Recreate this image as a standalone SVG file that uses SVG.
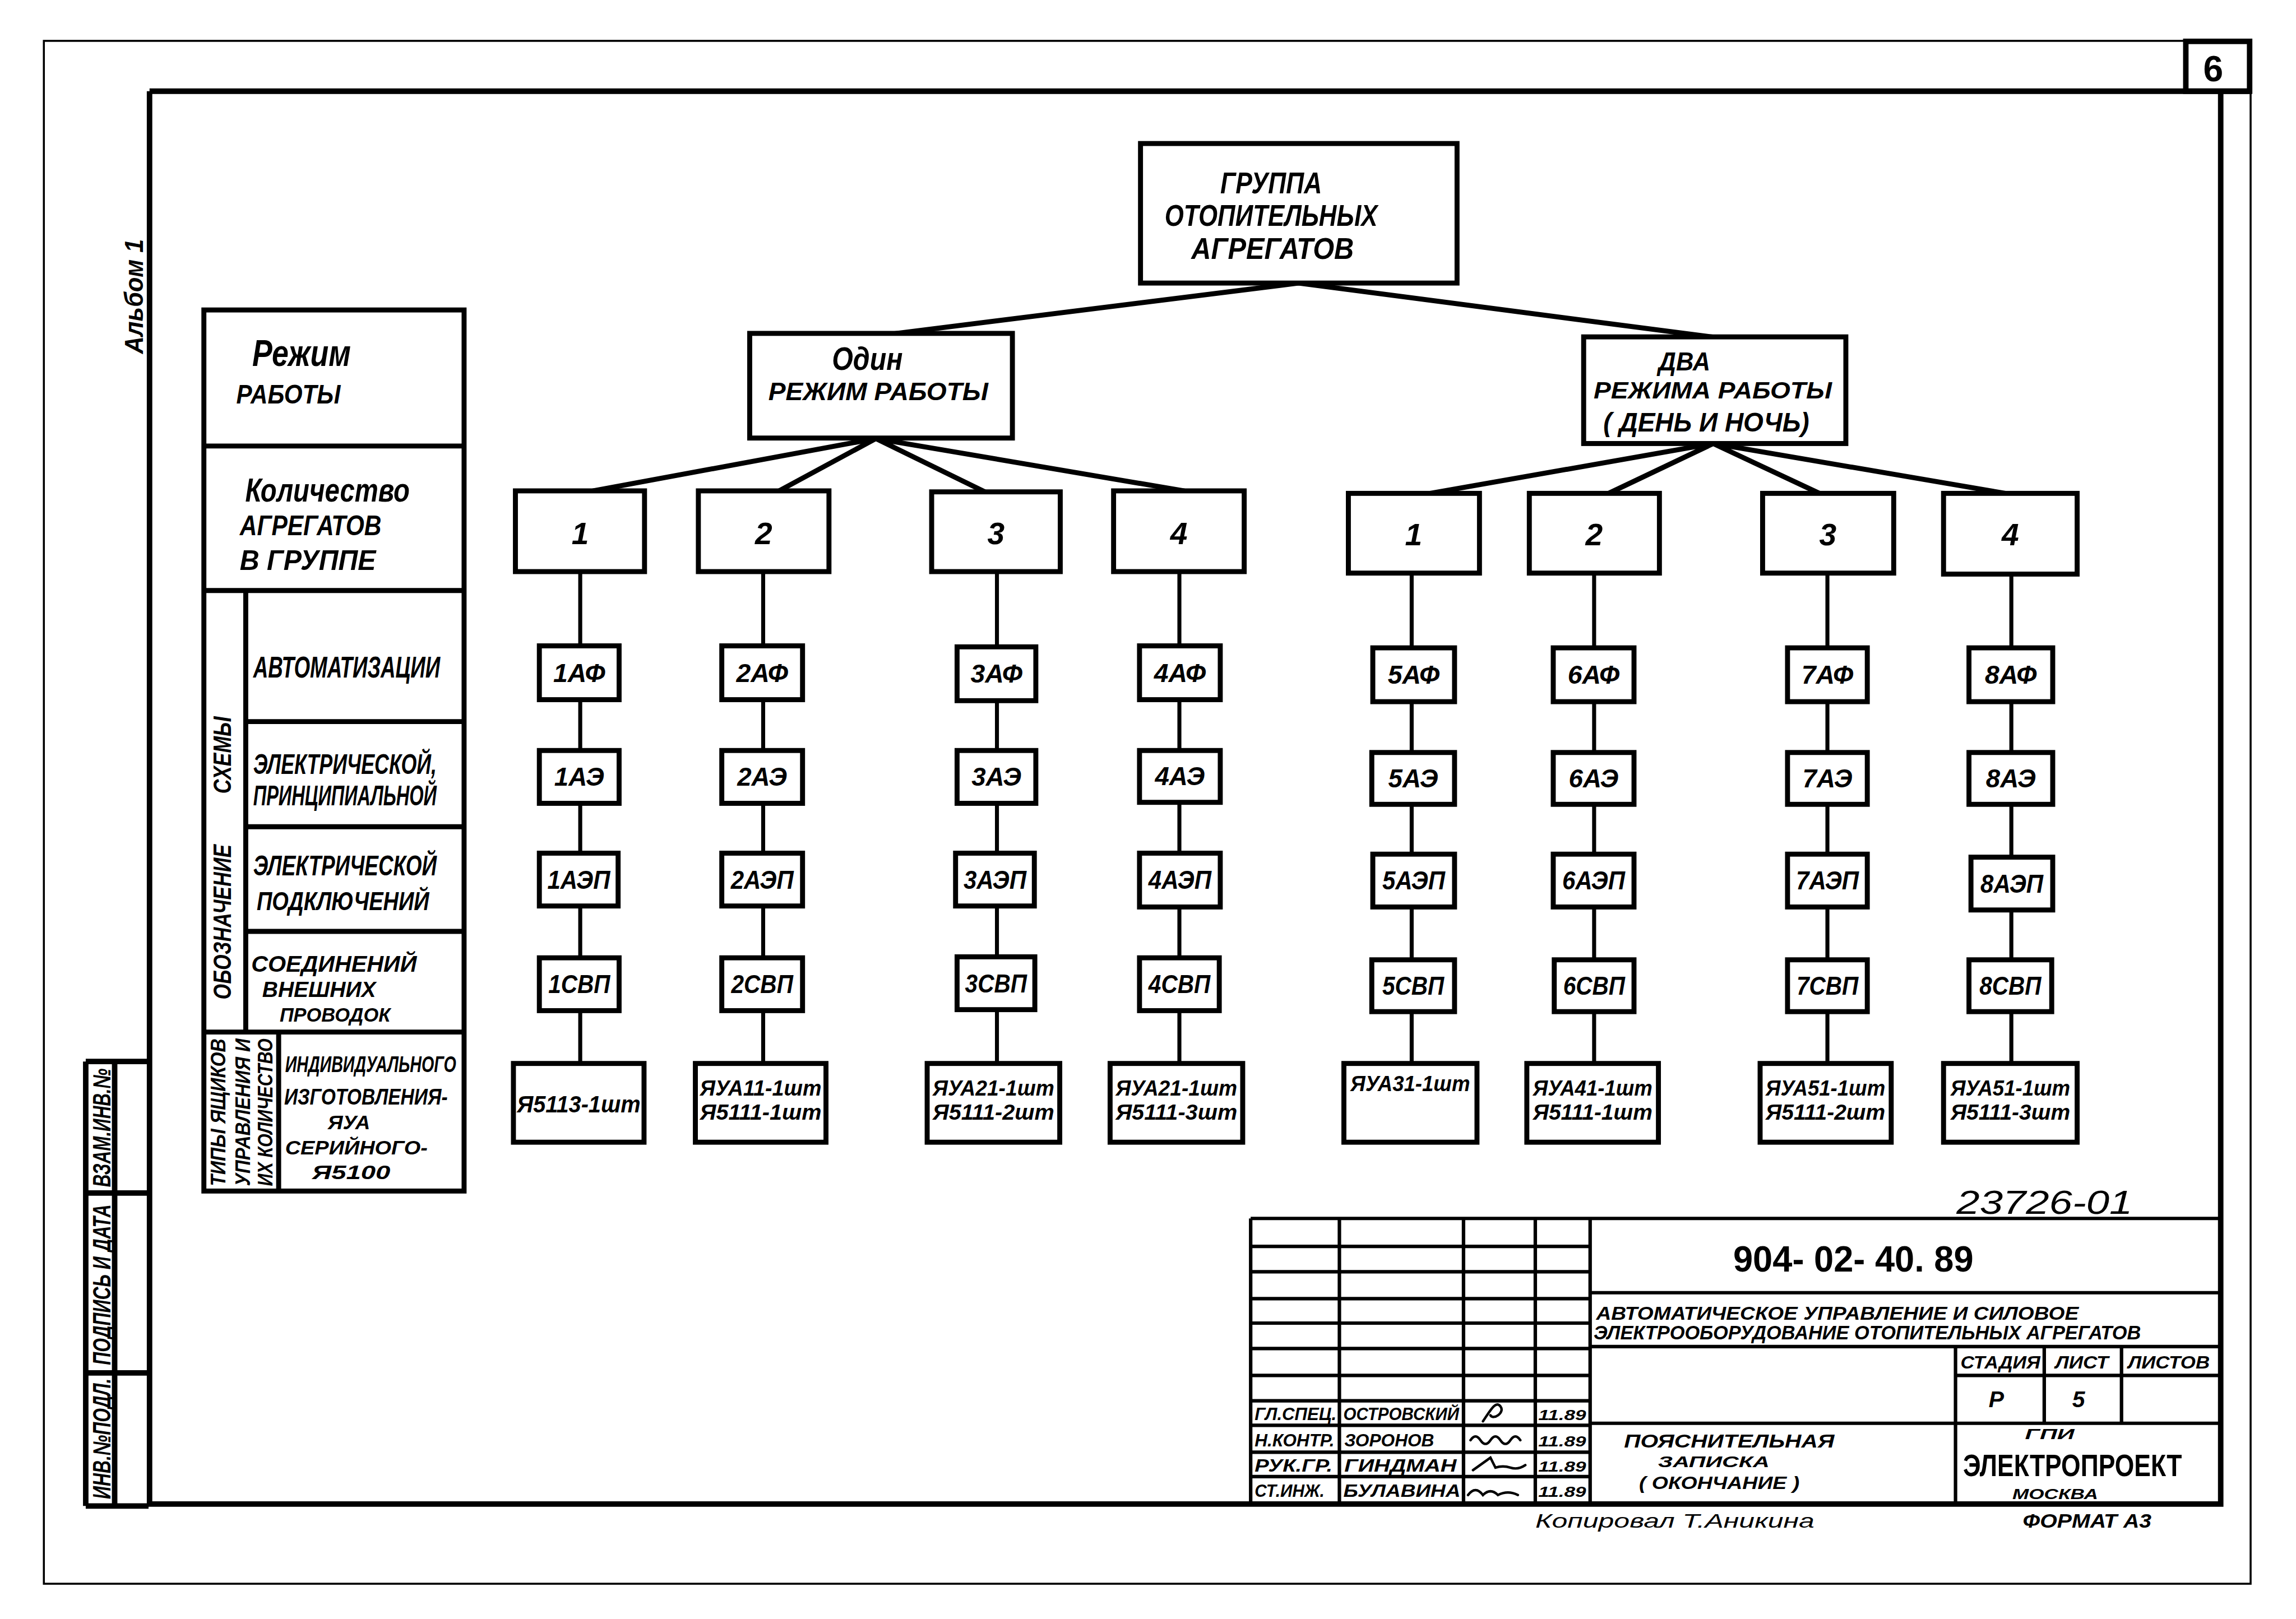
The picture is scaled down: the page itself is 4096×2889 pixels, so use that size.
<svg xmlns="http://www.w3.org/2000/svg" width="4096" height="2889" viewBox="0 0 4096 2889">
<style>
.bx{fill:#fff;stroke:#000;stroke-width:10}
.sb{fill:#fff;stroke:#000;stroke-width:10}
.fr{fill:none;stroke:#000;stroke-width:11}
.th{fill:none;stroke:#000;stroke-width:4}
.tb{fill:none;stroke:#000;stroke-width:7}
.cn{fill:none;stroke:#000;stroke-width:10;stroke-linecap:round}
.vc{fill:none;stroke:#000;stroke-width:8}
.t{font-family:"Liberation Sans","DejaVu Sans",sans-serif;font-weight:bold;font-style:italic;fill:#000}
.n{font-family:"Liberation Sans","DejaVu Sans",sans-serif;font-style:italic;fill:#000}
.b{font-weight:bold}
.u{font-style:normal}
.w{font-weight:normal}
.m{text-anchor:middle}
.sg{fill:none;stroke:#000;stroke-width:5;stroke-linecap:round}
</style>
<rect width="4096" height="2889" fill="#fff"/>
<g transform="scale(0.889265)">
<g id="sheet-frame">
<rect class="th" x="88" y="82" width="4427" height="3096"/>
<path class="fr" d="M300,183 H4513 M300,183 V3018 H4455 V183"/>
<rect class="fr" x="4385" y="83" width="128" height="100"/>
<text class="n b u m" x="4440" y="163" font-size="72">6</text>
<text class="t" transform="translate(287,595) rotate(-90)" font-size="52" text-anchor="middle" textLength="230" lengthAdjust="spacingAndGlyphs">Альбом 1</text>
</g>
<g id="left-stamp">
<path class="fr" d="M172,2130 H298 M172,2130 V3022 M230,2130 V3022 M172,2394 H298 M172,2755 H298 M172,3022 H298"/>
<text class="t" transform="translate(222,2263) rotate(-90)" font-size="50" text-anchor="middle" textLength="238" lengthAdjust="spacingAndGlyphs">ВЗАМ.ИНВ.№</text>
<text class="t" transform="translate(222,2578) rotate(-90)" font-size="50" text-anchor="middle" textLength="322" lengthAdjust="spacingAndGlyphs">ПОДПИСЬ И ДАТА</text>
<text class="t" transform="translate(222,2887) rotate(-90)" font-size="50" text-anchor="middle" textLength="242" lengthAdjust="spacingAndGlyphs">ИНВ.№ПОДЛ.</text>
</g>
<g id="legend-table">
<rect class="bx" x="409" y="622" width="522" height="1768"/>
<path class="bx" d="M409,895 H931 M409,1185 H931 M493,1185 V2071 M493,1448 H931 M493,1659 H931 M493,1869 H931 M409,2071 H931 M559,2071 V2390"/>
<text class="t" x="506" y="734" font-size="74" textLength="198" lengthAdjust="spacingAndGlyphs">Режим</text>
<text class="t" x="474" y="810" font-size="54" textLength="209" lengthAdjust="spacingAndGlyphs">РАБОТЫ</text>
<text class="t" x="492" y="1007" font-size="66" textLength="330" lengthAdjust="spacingAndGlyphs">Количество</text>
<text class="t" x="481" y="1074" font-size="56" textLength="284" lengthAdjust="spacingAndGlyphs">АГРЕГАТОВ</text>
<text class="t" x="481" y="1144" font-size="56" textLength="273" lengthAdjust="spacingAndGlyphs">В  ГРУППЕ</text>
<text class="t" transform="translate(463,1850) rotate(-90)" font-size="50" text-anchor="middle" textLength="311" lengthAdjust="spacingAndGlyphs">ОБОЗНАЧЕНИЕ</text>
<text class="t" transform="translate(463,1515) rotate(-90)" font-size="50" text-anchor="middle" textLength="155" lengthAdjust="spacingAndGlyphs">СХЕМЫ</text>
<text class="t" x="508" y="1359" font-size="60" textLength="375" lengthAdjust="spacingAndGlyphs">АВТОМАТИЗАЦИИ</text>
<text class="t" x="508" y="1553" font-size="56" textLength="368" lengthAdjust="spacingAndGlyphs">ЭЛЕКТРИЧЕСКОЙ,</text>
<text class="t" x="508" y="1616" font-size="56" textLength="368" lengthAdjust="spacingAndGlyphs">ПРИНЦИПИАЛЬНОЙ</text>
<text class="t" x="508" y="1756" font-size="56" textLength="368" lengthAdjust="spacingAndGlyphs">ЭЛЕКТРИЧЕСКОЙ</text>
<text class="t" x="515" y="1826" font-size="52" textLength="346" lengthAdjust="spacingAndGlyphs">ПОДКЛЮЧЕНИЙ</text>
<text class="t" x="504" y="1950" font-size="46" textLength="332" lengthAdjust="spacingAndGlyphs">СОЕДИНЕНИЙ</text>
<text class="t" x="526" y="2001" font-size="44" textLength="228" lengthAdjust="spacingAndGlyphs">ВНЕШНИХ</text>
<text class="t" x="561" y="2050" font-size="40" textLength="222" lengthAdjust="spacingAndGlyphs">ПРОВОДОК</text>
<text class="t" transform="translate(452,2232) rotate(-90)" font-size="42" text-anchor="middle" textLength="296" lengthAdjust="spacingAndGlyphs">ТИПЫ ЯЩИКОВ</text>
<text class="t" transform="translate(501,2232) rotate(-90)" font-size="42" text-anchor="middle" textLength="296" lengthAdjust="spacingAndGlyphs">УПРАВЛЕНИЯ И</text>
<text class="t" transform="translate(547,2232) rotate(-90)" font-size="42" text-anchor="middle" textLength="296" lengthAdjust="spacingAndGlyphs">ИХ КОЛИЧЕСТВО</text>
<text class="t" x="572" y="2151" font-size="46" textLength="343" lengthAdjust="spacingAndGlyphs">ИНДИВИДУАЛЬНОГО</text>
<text class="t" x="570" y="2216" font-size="46" textLength="328" lengthAdjust="spacingAndGlyphs">ИЗГОТОВЛЕНИЯ-</text>
<text class="t" x="700" y="2266" font-size="40" text-anchor="middle" textLength="85" lengthAdjust="spacingAndGlyphs">ЯУА</text>
<text class="t" x="572" y="2316" font-size="40" textLength="286" lengthAdjust="spacingAndGlyphs">СЕРИЙНОГО-</text>
<text class="t" x="626" y="2366" font-size="40" textLength="157" lengthAdjust="spacingAndGlyphs">Я5100</text>
</g>
<g id="connectors">
<path class="cn" d="M2605,568 L1790,670 M2605,568 L3440,677"/>
<path class="cn" d="M1757,880 L1190,985 M1757,880 L1563,985 M1757,880 L1976,987 M1757,880 L2375,985"/>
<path class="cn" d="M3437,890 L2869,990 M3437,890 L3227,990 M3437,890 L3650,990 M3437,890 L4023,990"/>
<path class="vc" d="M1164,1147 V2134 M1531,1147 V2134 M2000,1147 V2134 M2366,1147 V2134 M2832,1150 V2134 M3198,1150 V2134 M3666,1150 V2134 M4035,1150 V2134"/>
</g>
<g id="node-group">
<rect class="bx" x="2288" y="288" width="635" height="280"/>
<text class="n b" x="2550" y="388" font-size="60" text-anchor="middle" textLength="204" lengthAdjust="spacingAndGlyphs">ГРУППА</text>
<text class="n b" x="2550" y="453" font-size="60" text-anchor="middle" textLength="427" lengthAdjust="spacingAndGlyphs">ОТОПИТЕЛЬНЫХ</text>
<text class="n b" x="2553" y="520" font-size="60" text-anchor="middle" textLength="326" lengthAdjust="spacingAndGlyphs">АГРЕГАТОВ</text>
</g>
<g id="node-one-mode">
<rect class="bx" x="1504" y="669" width="527" height="210"/>
<text class="n b" x="1740" y="742" font-size="64" text-anchor="middle" textLength="142" lengthAdjust="spacingAndGlyphs">Один</text>
<text class="n b" x="1762" y="803" font-size="50" text-anchor="middle" textLength="441" lengthAdjust="spacingAndGlyphs">РЕЖИМ   РАБОТЫ</text>
</g>
<g id="node-two-modes">
<rect class="bx" x="3177" y="676" width="526" height="214"/>
<text class="n b" x="3379" y="743" font-size="52" text-anchor="middle" textLength="104" lengthAdjust="spacingAndGlyphs">ДВА</text>
<text class="n b" x="3436" y="799" font-size="48" text-anchor="middle" textLength="478" lengthAdjust="spacingAndGlyphs">РЕЖИМА РАБОТЫ</text>
<text class="n b" x="3423" y="866" font-size="54" text-anchor="middle" textLength="413" lengthAdjust="spacingAndGlyphs">( ДЕНЬ И НОЧЬ)</text>
</g>
<g id="node-count-1a"><rect class="bx" x="1034" y="985" width="259" height="162"/><text class="n b m" x="1164" y="1092" font-size="62">1</text></g>
<g id="node-count-2a"><rect class="bx" x="1401" y="985" width="262" height="162"/><text class="n b m" x="1532" y="1092" font-size="62">2</text></g>
<g id="node-count-3a"><rect class="bx" x="1869" y="987" width="258" height="160"/><text class="n b m" x="1998" y="1092" font-size="62">3</text></g>
<g id="node-count-4a"><rect class="bx" x="2234" y="985" width="262" height="162"/><text class="n b m" x="2365" y="1092" font-size="62">4</text></g>
<g id="node-count-1b"><rect class="bx" x="2705" y="990" width="263" height="160"/><text class="n b m" x="2836" y="1094" font-size="62">1</text></g>
<g id="node-count-2b"><rect class="bx" x="3068" y="990" width="261" height="160"/><text class="n b m" x="3198" y="1094" font-size="62">2</text></g>
<g id="node-count-3b"><rect class="bx" x="3536" y="990" width="263" height="160"/><text class="n b m" x="3667" y="1094" font-size="62">3</text></g>
<g id="node-count-4b"><rect class="bx" x="3899" y="990" width="268" height="162"/><text class="n b m" x="4033" y="1094" font-size="62">4</text></g>

<g id="col1">
<rect class="sb" x="1082" y="1296" width="160" height="108"/><text class="t m" x="1162" y="1368" font-size="52" textLength="104" lengthAdjust="spacingAndGlyphs">1АФ</text>
<rect class="sb" x="1082" y="1506" width="160" height="106"/><text class="t m" x="1162" y="1577" font-size="52" textLength="100" lengthAdjust="spacingAndGlyphs">1АЭ</text>
<rect class="sb" x="1082" y="1712" width="158" height="106"/><text class="t m" x="1161" y="1783" font-size="52" textLength="126" lengthAdjust="spacingAndGlyphs">1АЭП</text>
<rect class="sb" x="1082" y="1922" width="160" height="106"/><text class="t m" x="1162" y="1993" font-size="52" textLength="124" lengthAdjust="spacingAndGlyphs">1СВП</text>
<rect class="sb" x="1030" y="2134" width="262" height="158"/><text class="t m" x="1161" y="2232" font-size="48" textLength="248" lengthAdjust="spacingAndGlyphs">Я5113-1шт</text>
</g>
<g id="col2">
<rect class="sb" x="1448" y="1296" width="162" height="108"/><text class="t m" x="1529" y="1368" font-size="52" textLength="104" lengthAdjust="spacingAndGlyphs">2АФ</text>
<rect class="sb" x="1448" y="1506" width="162" height="106"/><text class="t m" x="1529" y="1577" font-size="52" textLength="100" lengthAdjust="spacingAndGlyphs">2АЭ</text>
<rect class="sb" x="1448" y="1712" width="162" height="106"/><text class="t m" x="1529" y="1783" font-size="52" textLength="126" lengthAdjust="spacingAndGlyphs">2АЭП</text>
<rect class="sb" x="1448" y="1922" width="162" height="106"/><text class="t m" x="1529" y="1993" font-size="52" textLength="124" lengthAdjust="spacingAndGlyphs">2СВП</text>
<rect class="sb" x="1395" y="2134" width="262" height="158"/><text class="t m" x="1526" y="2198" font-size="44" textLength="244" lengthAdjust="spacingAndGlyphs">ЯУА11-1шт</text><text class="t m" x="1526" y="2247" font-size="44" textLength="244" lengthAdjust="spacingAndGlyphs">Я5111-1шт</text>
</g>
<g id="col3">
<rect class="sb" x="1920" y="1298" width="158" height="108"/><text class="t m" x="1999" y="1370" font-size="52" textLength="104" lengthAdjust="spacingAndGlyphs">3АФ</text>
<rect class="sb" x="1920" y="1506" width="158" height="106"/><text class="t m" x="1999" y="1577" font-size="52" textLength="100" lengthAdjust="spacingAndGlyphs">3АЭ</text>
<rect class="sb" x="1917" y="1712" width="158" height="106"/><text class="t m" x="1996" y="1783" font-size="52" textLength="126" lengthAdjust="spacingAndGlyphs">3АЭП</text>
<rect class="sb" x="1920" y="1920" width="156" height="106"/><text class="t m" x="1998" y="1991" font-size="52" textLength="124" lengthAdjust="spacingAndGlyphs">3СВП</text>
<rect class="sb" x="1860" y="2134" width="266" height="158"/><text class="t m" x="1993" y="2198" font-size="44" textLength="244" lengthAdjust="spacingAndGlyphs">ЯУА21-1шт</text><text class="t m" x="1993" y="2247" font-size="44" textLength="244" lengthAdjust="spacingAndGlyphs">Я5111-2шт</text>
</g>
<g id="col4">
<rect class="sb" x="2286" y="1296" width="162" height="108"/><text class="t m" x="2367" y="1368" font-size="52" textLength="104" lengthAdjust="spacingAndGlyphs">4АФ</text>
<rect class="sb" x="2286" y="1506" width="162" height="104"/><text class="t m" x="2367" y="1576" font-size="52" textLength="100" lengthAdjust="spacingAndGlyphs">4АЭ</text>
<rect class="sb" x="2286" y="1712" width="162" height="108"/><text class="t m" x="2367" y="1784" font-size="52" textLength="126" lengthAdjust="spacingAndGlyphs">4АЭП</text>
<rect class="sb" x="2286" y="1922" width="160" height="106"/><text class="t m" x="2366" y="1993" font-size="52" textLength="124" lengthAdjust="spacingAndGlyphs">4СВП</text>
<rect class="sb" x="2227" y="2134" width="266" height="158"/><text class="t m" x="2360" y="2198" font-size="44" textLength="244" lengthAdjust="spacingAndGlyphs">ЯУА21-1шт</text><text class="t m" x="2360" y="2247" font-size="44" textLength="244" lengthAdjust="spacingAndGlyphs">Я5111-3шт</text>
</g>
<g id="col5">
<rect class="sb" x="2754" y="1300" width="164" height="108"/><text class="t m" x="2836" y="1372" font-size="52" textLength="104" lengthAdjust="spacingAndGlyphs">5АФ</text>
<rect class="sb" x="2752" y="1510" width="166" height="104"/><text class="t m" x="2835" y="1580" font-size="52" textLength="100" lengthAdjust="spacingAndGlyphs">5АЭ</text>
<rect class="sb" x="2754" y="1714" width="164" height="106"/><text class="t m" x="2836" y="1785" font-size="52" textLength="126" lengthAdjust="spacingAndGlyphs">5АЭП</text>
<rect class="sb" x="2752" y="1926" width="166" height="104"/><text class="t m" x="2835" y="1996" font-size="52" textLength="124" lengthAdjust="spacingAndGlyphs">5СВП</text>
<rect class="sb" x="2696" y="2134" width="267" height="158"/><text class="t m" x="2829" y="2190" font-size="44" textLength="240" lengthAdjust="spacingAndGlyphs">ЯУА31-1шт</text>
</g>
<g id="col6">
<rect class="sb" x="3116" y="1300" width="162" height="108"/><text class="t m" x="3197" y="1372" font-size="52" textLength="104" lengthAdjust="spacingAndGlyphs">6АФ</text>
<rect class="sb" x="3116" y="1510" width="162" height="104"/><text class="t m" x="3197" y="1580" font-size="52" textLength="100" lengthAdjust="spacingAndGlyphs">6АЭ</text>
<rect class="sb" x="3116" y="1714" width="162" height="106"/><text class="t m" x="3197" y="1785" font-size="52" textLength="126" lengthAdjust="spacingAndGlyphs">6АЭП</text>
<rect class="sb" x="3118" y="1926" width="160" height="104"/><text class="t m" x="3198" y="1996" font-size="52" textLength="124" lengthAdjust="spacingAndGlyphs">6СВП</text>
<rect class="sb" x="3063" y="2134" width="264" height="158"/><text class="t m" x="3195" y="2198" font-size="44" textLength="240" lengthAdjust="spacingAndGlyphs">ЯУА41-1шт</text><text class="t m" x="3195" y="2247" font-size="44" textLength="240" lengthAdjust="spacingAndGlyphs">Я5111-1шт</text>
</g>
<g id="col7">
<rect class="sb" x="3586" y="1300" width="160" height="108"/><text class="t m" x="3666" y="1372" font-size="52" textLength="104" lengthAdjust="spacingAndGlyphs">7АФ</text>
<rect class="sb" x="3586" y="1510" width="160" height="104"/><text class="t m" x="3666" y="1580" font-size="52" textLength="100" lengthAdjust="spacingAndGlyphs">7АЭ</text>
<rect class="sb" x="3586" y="1714" width="160" height="106"/><text class="t m" x="3666" y="1785" font-size="52" textLength="126" lengthAdjust="spacingAndGlyphs">7АЭП</text>
<rect class="sb" x="3586" y="1926" width="160" height="104"/><text class="t m" x="3666" y="1996" font-size="52" textLength="124" lengthAdjust="spacingAndGlyphs">7СВП</text>
<rect class="sb" x="3531" y="2134" width="263" height="158"/><text class="t m" x="3662" y="2198" font-size="44" textLength="240" lengthAdjust="spacingAndGlyphs">ЯУА51-1шт</text><text class="t m" x="3662" y="2247" font-size="44" textLength="240" lengthAdjust="spacingAndGlyphs">Я5111-2шт</text>
</g>
<g id="col8">
<rect class="sb" x="3950" y="1300" width="168" height="108"/><text class="t m" x="4034" y="1372" font-size="52" textLength="104" lengthAdjust="spacingAndGlyphs">8АФ</text>
<rect class="sb" x="3950" y="1510" width="168" height="104"/><text class="t m" x="4034" y="1580" font-size="52" textLength="100" lengthAdjust="spacingAndGlyphs">8АЭ</text>
<rect class="sb" x="3954" y="1720" width="164" height="106"/><text class="t m" x="4036" y="1791" font-size="52" textLength="126" lengthAdjust="spacingAndGlyphs">8АЭП</text>
<rect class="sb" x="3950" y="1926" width="166" height="104"/><text class="t m" x="4033" y="1996" font-size="52" textLength="124" lengthAdjust="spacingAndGlyphs">8СВП</text>
<rect class="sb" x="3899" y="2134" width="268" height="158"/><text class="t m" x="4033" y="2198" font-size="44" textLength="240" lengthAdjust="spacingAndGlyphs">ЯУА51-1шт</text><text class="t m" x="4033" y="2247" font-size="44" textLength="240" lengthAdjust="spacingAndGlyphs">Я5111-3шт</text>
</g>

<g id="title-block">
<path class="tb" d="M2509,2445 H4450 M2509,2445 V3016 M2687,2445 V3016 M2936,2445 V3016 M3080,2445 V3016 M3190,2445 V3016"/>
<path class="tb" d="M2509,2501 H3190 M2509,2552 H3190 M2509,2606 H3190 M2509,2655 H3190 M2509,2706 H3190 M2509,2760 H3190 M2509,2811 H3190 M2509,2860 H3190 M2509,2914 H3190 M2509,2963 H3190"/>
<path class="tb" d="M3190,2594 H4450 M3190,2702 H4450 M3190,2856 H4450 M3923,2702 V3016 M4101,2702 V2856 M4256,2702 V2856 M3923,2760 H4450"/>
<text class="n" x="3925" y="2436" font-size="66" textLength="353" lengthAdjust="spacingAndGlyphs">23726-01</text>
<text class="n b u" x="3718" y="2552" font-size="72" text-anchor="middle" textLength="482" lengthAdjust="spacingAndGlyphs">904- 02- 40. 89</text>
<text class="t" x="3202" y="2648" font-size="38" textLength="968" lengthAdjust="spacingAndGlyphs">АВТОМАТИЧЕСКОЕ УПРАВЛЕНИЕ И СИЛОВОЕ</text>
<text class="t" x="3197" y="2688" font-size="40" textLength="1098" lengthAdjust="spacingAndGlyphs">ЭЛЕКТРООБОРУДОВАНИЕ ОТОПИТЕЛЬНЫХ  АГРЕГАТОВ</text>
<text class="t" x="3933" y="2746" font-size="36" textLength="160" lengthAdjust="spacingAndGlyphs">СТАДИЯ</text>
<text class="t" x="4123" y="2746" font-size="36" textLength="107" lengthAdjust="spacingAndGlyphs">ЛИСТ</text>
<text class="t" x="4269" y="2746" font-size="36" textLength="164" lengthAdjust="spacingAndGlyphs">ЛИСТОВ</text>
<text class="t m" x="4005" y="2824" font-size="46">Р</text>
<text class="t m" x="4170" y="2824" font-size="46">5</text>
<text class="t" x="3258" y="2905" font-size="38" textLength="422" lengthAdjust="spacingAndGlyphs">ПОЯСНИТЕЛЬНАЯ</text>
<text class="t" x="3326" y="2944" font-size="32" textLength="224" lengthAdjust="spacingAndGlyphs">ЗАПИСКА</text>
<text class="t" x="3288" y="2988" font-size="36" textLength="322" lengthAdjust="spacingAndGlyphs">( ОКОНЧАНИЕ )</text>
<text class="t" x="4112" y="2888" font-size="30" text-anchor="middle" textLength="99" lengthAdjust="spacingAndGlyphs">ГПИ</text>
<text class="t u" x="3938" y="2962" font-size="62" textLength="439" lengthAdjust="spacingAndGlyphs">ЭЛЕКТРОПРОЕКТ</text>
<text class="t" x="4037" y="3008" font-size="30" textLength="172" lengthAdjust="spacingAndGlyphs">МОСКВА</text>
<text class="t" x="2517" y="2850" font-size="36" textLength="164" lengthAdjust="spacingAndGlyphs">ГЛ.СПЕЦ.</text>
<text class="t" x="2695" y="2850" font-size="36" textLength="232" lengthAdjust="spacingAndGlyphs">ОСТРОВСКИЙ</text>
<text class="t" x="2517" y="2902" font-size="36" textLength="160" lengthAdjust="spacingAndGlyphs">Н.КОНТР.</text>
<text class="t" x="2697" y="2902" font-size="36" textLength="180" lengthAdjust="spacingAndGlyphs">ЗОРОНОВ</text>
<text class="t" x="2517" y="2953" font-size="36" textLength="156" lengthAdjust="spacingAndGlyphs">РУК.ГР.</text>
<text class="t" x="2697" y="2953" font-size="36" textLength="225" lengthAdjust="spacingAndGlyphs">ГИНДМАН</text>
<text class="t" x="2517" y="3004" font-size="36" textLength="140" lengthAdjust="spacingAndGlyphs">СТ.ИНЖ.</text>
<text class="t" x="2695" y="3004" font-size="36" textLength="235" lengthAdjust="spacingAndGlyphs">БУЛАВИНА</text>
<text class="t" x="3086" y="2850" font-size="28" textLength="96" lengthAdjust="spacingAndGlyphs">11.89</text>
<text class="t" x="3086" y="2902" font-size="28" textLength="96" lengthAdjust="spacingAndGlyphs">11.89</text>
<text class="t" x="3086" y="2953" font-size="28" textLength="96" lengthAdjust="spacingAndGlyphs">11.89</text>
<text class="t" x="3086" y="3004" font-size="28" textLength="96" lengthAdjust="spacingAndGlyphs">11.89</text>
<path class="sg" d="M2975,2852 C2990,2830 3000,2810 3010,2822 C3020,2835 2995,2850 2990,2840 M2950,2890 q10,-15 20,0 q10,15 20,0 q10,-15 20,0 q10,15 20,0 q10,-15 20,0 M2955,2950 L2990,2925 L3000,2945 q15,-5 30,0 q15,5 30,-5 M2945,3000 q15,-20 30,0 q15,-15 30,0 q20,-10 40,0"/>
<text class="n" x="3080" y="3066" font-size="40" textLength="560" lengthAdjust="spacingAndGlyphs">Копировал   Т.Аникина</text>
<text class="t" x="4058" y="3066" font-size="40" textLength="258" lengthAdjust="spacingAndGlyphs">ФОРМАТ А3</text>
</g>
</g>
</svg>
